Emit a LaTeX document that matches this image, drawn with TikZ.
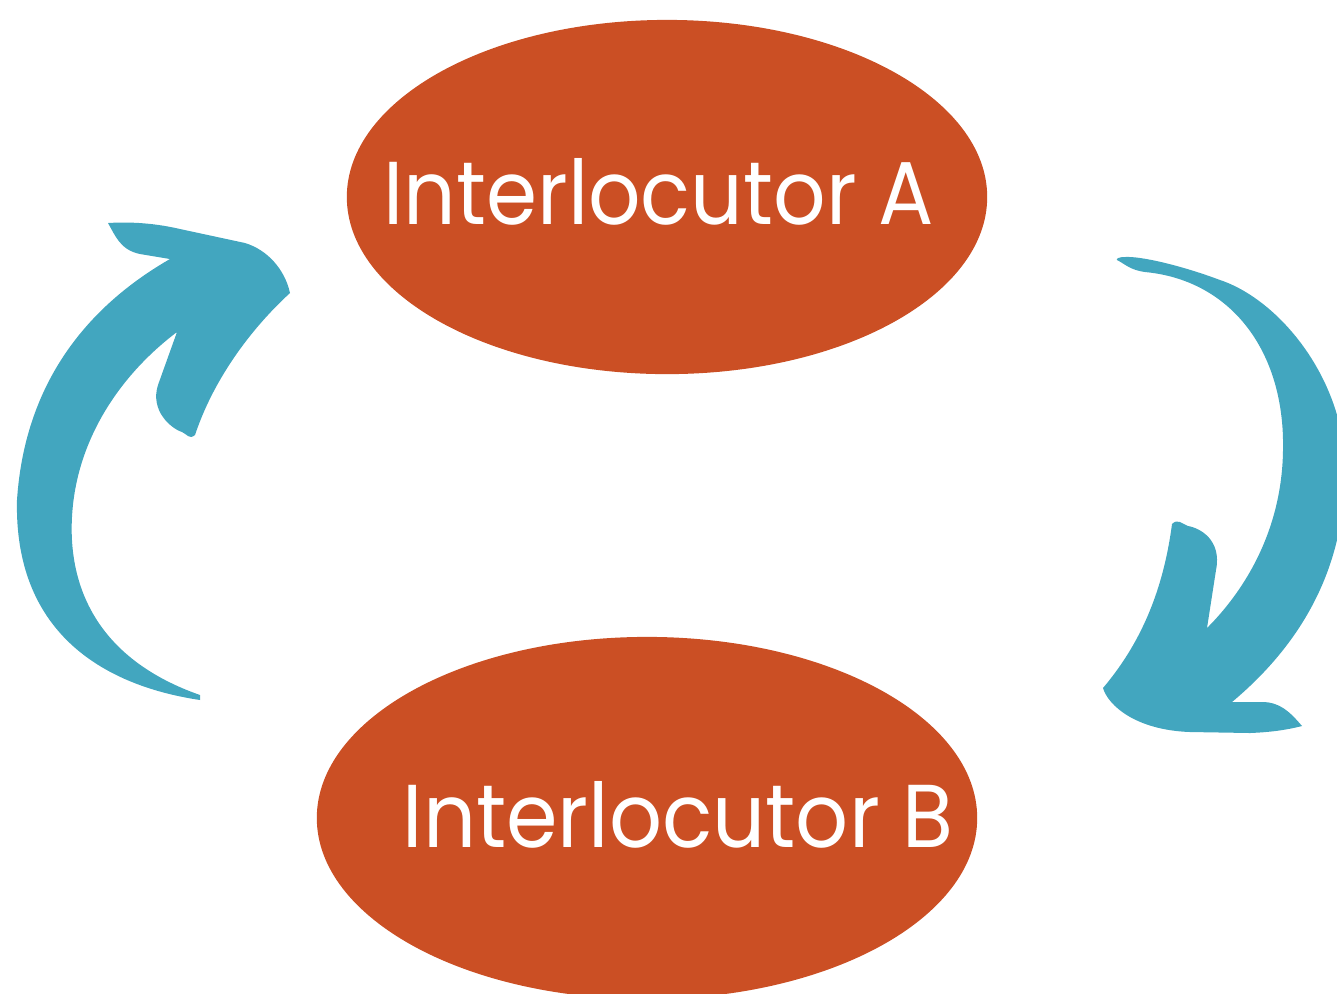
\documentclass[tikz,border=0pt]{standalone}
\usepackage{fontspec}
\setmainfont{Poppins}
\usepackage{graphicx}
\usetikzlibrary{shapes.geometric}
\definecolor{talkred}{HTML}{CB4F24}
\definecolor{turnblue}{HTML}{42A6BF}
\tikzset{
  talker/.style={ellipse,fill=talkred,inner sep=0pt},
  tag/.style={text=white,inner sep=0pt,anchor=base west},
  turn/.style={fill=turnblue}
}
\newcommand{\talkname}[1]{\resizebox{5.5cm}{0.66cm}{#1}}
\begin{document}
\begin{tikzpicture}[x=0.01cm,y=-0.01cm]
  \useasboundingbox (0,0) rectangle (1337,993);
  \clip (0,0) rectangle (1337,993);
  % the two speakers
  \node[talker,minimum width=6.4cm,minimum height=3.54cm] (spkA) at (667,197) {};
  \node[talker,minimum width=6.6cm,minimum height=3.62cm] (spkB) at (647,818) {};
  \node[tag] (nameA) at (383,224) {\talkname{Interlocutor A}};
  \node[tag] (nameB) at (402,847) {\talkname{Interlocutor B}};
  % left turn arrow, B up to A
  \fill[turn] (170,259) .. controls (90,305) and (25,380) .. (17,500)
    .. controls (14,630) and (100,685) .. (200,700) -- (200,695)
    .. controls (100,660) and (68,590) .. (72,517)
    .. controls (76,440) and (120,375) .. (177,332) -- (158,385)
    .. controls (150,410) and (170,428) .. (182,432)
    .. controls (187,434) and (189,440) .. (195,435)
    .. controls (215,375) and (255,325) .. (290,293)
    .. controls (285,270) and (268,250) .. (245,243) -- (180,229)
    .. controls (150,222) and (125,222) .. (108,223)
    .. controls (115,235) and (120,250) .. (140,254) -- cycle;
  % right turn arrow, A down to B
  \fill[turn] (1117,260) .. controls (1125,264) and (1130,270) .. (1145,272)
    .. controls (1230,280) and (1285,350) .. (1283,450)
    .. controls (1282,530) and (1245,590) .. (1207,628) -- (1216,570)
    .. controls (1222,540) and (1200,528) .. (1188,526)
    .. controls (1182,524) and (1178,518) .. (1172,524)
    .. controls (1162,600) and (1135,650) .. (1103,688)
    .. controls (1108,705) and (1135,730) .. (1190,732) -- (1250,733)
    .. controls (1275,732) and (1290,729) .. (1302,726)
    .. controls (1290,712) and (1280,702) .. (1262,702) -- (1232,702)
    .. controls (1300,645) and (1345,570) .. (1345,470)
    .. controls (1345,380) and (1280,300) .. (1220,280)
    .. controls (1180,265) and (1140,256) .. (1125,257)
    .. controls (1118,257) and (1116,259) .. (1117,260) -- cycle;
\end{tikzpicture}
\end{document}
